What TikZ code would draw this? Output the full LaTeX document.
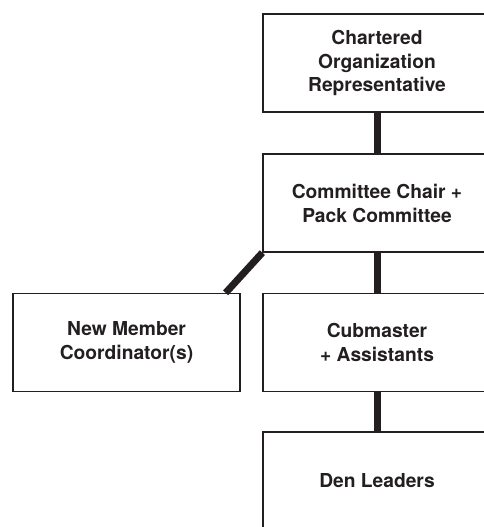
\documentclass[tikz,border=0pt]{standalone}
\usepackage{fontspec}
\setmainfont{TeX Gyre Heros}
\definecolor{ink}{HTML}{231F20}

\begin{document}
\begin{tikzpicture}[x=1bp,y=-1bp,
  role/.style={draw=ink,line width=1.3bp,fill=white,minimum width=228bp,
    minimum height=98bp,inner sep=0pt,align=center,text=ink,
    font=\bfseries\fontsize{19.3}{24}\selectfont},
  link/.style={draw=ink,line width=7bp}]
  \useasboundingbox (0,0) rectangle (484,527);
  \clip (0,0) rectangle (484,527);
  \node[role] (cor) at (377,63) {Chartered\\Organization\\Representative};
  \node[role] (chair) at (377,203) {Committee Chair +\\Pack Committee};
  \node[role] (cubm) at (377,342.5) {Cubmaster\\+ Assistants};
  \node[role,minimum width=227bp] (newm) at (126.5,342.5) {New Member\\Coordinator(s)};
  \node[role] (den) at (377,481) {Den Leaders};
  \coordinate (newmtop) at ([xshift=-15bp]newm.north east);
  \draw[link] (cor) -- (chair);
  \draw[link] (chair) -- (cubm);
  \draw[link] (cubm) -- (den);
  \draw[link] (chair.south west) -- (newmtop);
\end{tikzpicture}
\end{document}
